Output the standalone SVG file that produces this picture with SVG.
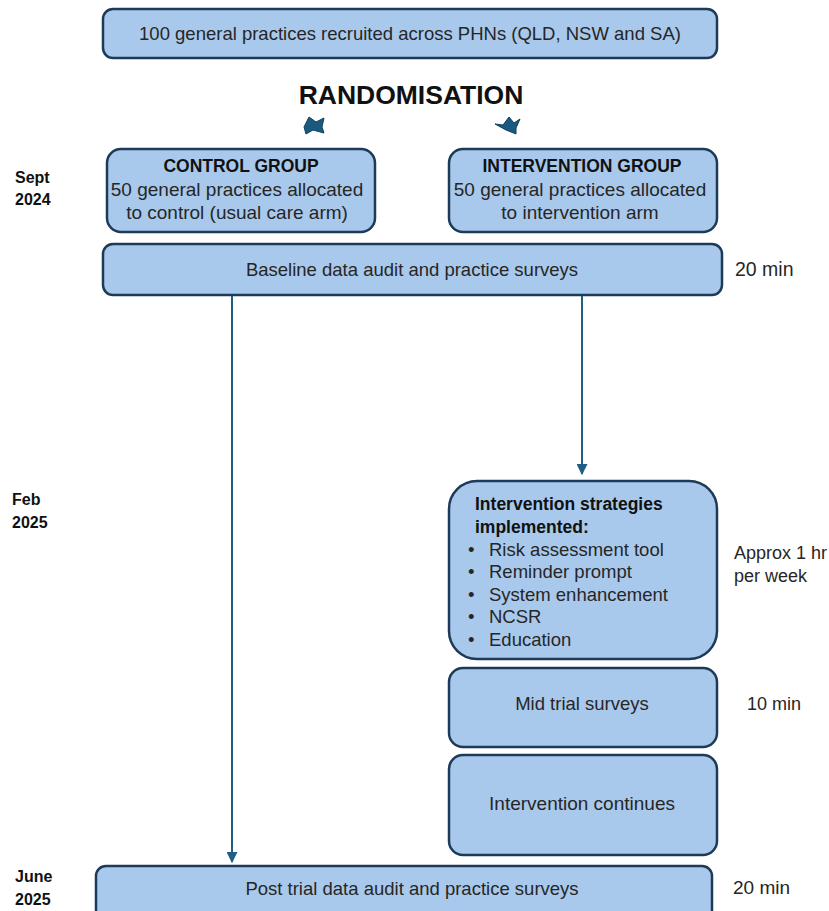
<svg xmlns="http://www.w3.org/2000/svg" width="829" height="911" viewBox="0 0 829 911">
<defs>
<style>
.box{fill:#a9c9ec;stroke:#1d3a58;stroke-width:2.5}
.t{font-family:"Liberation Sans",Arial,sans-serif;font-size:18.5px;fill:#262626}
.c{text-anchor:middle}
.b{font-weight:bold;fill:#111}
.side{font-family:"Liberation Sans",Arial,sans-serif;font-size:16px;font-weight:bold;fill:#111}
.conn{stroke:#1f5f86;stroke-width:2;fill:none}
</style>
<marker id="ah" viewBox="0 0 10 10" refX="9" refY="5" markerWidth="5.5" markerHeight="5.5" orient="auto">
<path d="M0,0 L10,5 L0,10 z" fill="#1f5f86"/>
</marker>
</defs>
<rect width="829" height="911" fill="#fff"/>

<g id="recruit">
<rect class="box" x="103" y="9" width="614" height="49" rx="10"/>
<text class="t c" x="410" y="40">100 general practices recruited across PHNs (QLD, NSW and SA)</text>
</g>

<g id="randomisation">
<text x="411" y="104" text-anchor="middle" style="font-family:'Liberation Sans',Arial,sans-serif;font-size:26.5px;font-weight:bold;fill:#111">RANDOMISATION</text>
<polygon points="304,127 309,117 316,122 324,118 322,127 324,133 313,130 306,134" fill="#1b5a80" stroke="#123f5c" stroke-width="1"/>
<polygon points="495,124 503,125 509,117 514,123 520,119 516,128 516,134 506,130" fill="#1b5a80" stroke="#123f5c" stroke-width="1"/>
</g>

<g id="sept">
<text class="side" x="15" y="183">Sept</text>
<text class="side" x="15" y="205">2024</text>
</g>

<g id="control">
<rect class="box" x="107" y="149" width="268" height="83" rx="14"/>
<text class="t c b" x="241" y="172" style="font-size:17.5px">CONTROL GROUP</text>
<text class="t c" x="237" y="196" style="font-size:19px">50 general practices allocated</text>
<text class="t c" x="237" y="219" style="font-size:19px">to control (usual care arm)</text>
</g>

<g id="intervention">
<rect class="box" x="449" y="149" width="268" height="83" rx="14"/>
<text class="t c b" x="582" y="172" style="font-size:17.5px">INTERVENTION GROUP</text>
<text class="t c" x="580" y="196" style="font-size:19px">50 general practices allocated</text>
<text class="t c" x="580" y="219" style="font-size:19px">to intervention arm</text>
</g>

<g id="baseline">
<rect class="box" x="103" y="244" width="619" height="51" rx="10"/>
<text class="t c" x="412" y="276">Baseline data audit and practice surveys</text>
<text class="t" x="735" y="276" style="font-size:19.5px">20 min</text>
</g>

<g id="feb">
<text class="side" x="12" y="505">Feb</text>
<text class="side" x="12" y="528">2025</text>
</g>

<g id="strategies">
<rect class="box" x="449" y="481" width="268" height="178" rx="28"/>
<text class="t b" x="475" y="510" style="font-size:17.5px">Intervention strategies</text>
<text class="t b" x="475" y="533" style="font-size:17.5px">implemented:</text>
<g class="t">
<text x="468" y="556">•</text><text x="489" y="556">Risk assessment tool</text>
<text x="468" y="578">•</text><text x="489" y="578">Reminder prompt</text>
<text x="468" y="601">•</text><text x="489" y="601">System enhancement</text>
<text x="468" y="623">•</text><text x="489" y="623">NCSR</text>
<text x="468" y="646">•</text><text x="489" y="646">Education</text>
</g>
<text class="t" x="734" y="559" style="font-size:18px">Approx 1 hr</text>
<text class="t" x="734" y="582" style="font-size:18px">per week</text>
</g>

<g id="midtrial">
<rect class="box" x="449" y="668" width="268" height="79" rx="14"/>
<text class="t c" x="582" y="710">Mid trial surveys</text>
<text class="t" x="747" y="710" style="font-size:18px">10 min</text>
</g>

<g id="continues">
<rect class="box" x="449" y="755" width="268" height="100" rx="14"/>
<text class="t c" x="582" y="810" style="font-size:19px">Intervention continues</text>
</g>

<g id="june">
<text class="side" x="15" y="882">June</text>
<text class="side" x="15" y="905">2025</text>
</g>

<g id="posttrial">
<rect class="box" x="96" y="866" width="616" height="60" rx="10"/>
<text class="t c" x="412" y="895">Post trial data audit and practice surveys</text>
<text class="t" x="733" y="894" style="font-size:19px">20 min</text>
</g>

<g id="connectors">
<line class="conn" x1="232" y1="296" x2="232" y2="862" marker-end="url(#ah)"/>
<line class="conn" x1="582" y1="296" x2="582" y2="474" marker-end="url(#ah)"/>
</g>
</svg>
